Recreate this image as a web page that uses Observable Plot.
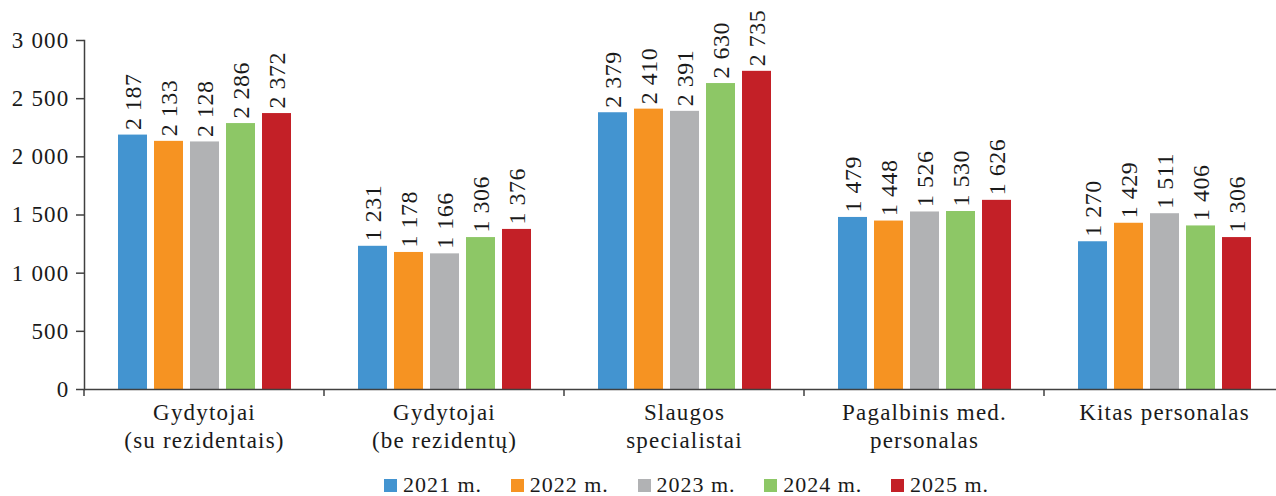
<!DOCTYPE html>
<html>
<head>
<meta charset="utf-8">
<script src="https://cdn.jsdelivr.net/npm/d3@7"></script>
<script src="https://cdn.jsdelivr.net/npm/@observablehq/plot@0.6"></script>
<style>
  body { margin: 0; background: #fff; font-family: "Liberation Serif", "Times New Roman", serif; color: #1a1a1a; }
  #wrap { position: relative; width: 1276px; height: 496px; overflow: hidden; }
  #chart svg text { letter-spacing: 1.2px; }
  #chart svg .vlab text { letter-spacing: 0.5px; }
  #legend { position: absolute; left: 384px; top: 474px; display: flex; align-items: center; font-size: 22px; line-height: 22px; letter-spacing: 1px; }
  .item { display: flex; align-items: center; width: 126.75px; }
  .sw { width: 13px; height: 13px; margin-right: 6px; flex: none; }
</style>
</head>
<body>
<div id="wrap"><div id="chart"></div><div id="legend"></div></div>
<script>
const categories = ["Gydytojai\n(su rezidentais)", "Gydytojai\n(be rezidentų)", "Slaugos\nspecialistai", "Pagalbinis med.\npersonalas", "Kitas personalas"];
const years = ["2021 m.", "2022 m.", "2023 m.", "2024 m.", "2025 m."];
const v2021 = [2187, 1231, 2379, 1479, 1270];
const v2022 = [2133, 1178, 2410, 1448, 1429];
const v2023 = [2128, 1166, 2391, 1526, 1511];
const v2024 = [2286, 1306, 2630, 1530, 1406];
const v2025 = [2372, 1376, 2735, 1626, 1306];
const colors = ["#4394d0", "#f69322", "#b1b2b4", "#8dc766", "#c32027"];
const yTicks = [0, 500, 1000, 1500, 2000, 2500, 3000];

const series = [v2021, v2022, v2023, v2024, v2025];
const rows = [];
categories.forEach((c, i) => years.forEach((y, j) => rows.push({cat: c, year: y, value: series[j][i]})));

const fmt = d3.formatLocale({decimal: ",", thousands: " ", grouping: [3], currency: ["", ""]}).format(",d");
const axisColor = "#404040";
const textColor = "#1a1a1a";

// small tick below the baseline at the left edge of every category band (drawn once per facet)
function bandTicks(index, scales, values, dimensions) {
  const y0 = scales.y(0);
  const x = dimensions.marginLeft;
  return d3.create("svg:line")
    .attr("stroke", axisColor).attr("stroke-width", 1.5)
    .attr("x1", x).attr("x2", x).attr("y1", y0).attr("y2", y0 + 7)
    .node();
}

const chart = Plot.plot({
  width: 1276,
  height: 496,
  marginLeft: 84,
  marginRight: 0,
  marginTop: 40,
  marginBottom: 107,
  style: {fontFamily: '"Liberation Serif", "Times New Roman", serif', color: textColor, background: "#fff"},
  fx: {domain: categories, range: [84, 1284], padding: 0, axis: null},
  x: {domain: years, paddingInner: 0.2, paddingOuter: 0.87, axis: null},
  y: {domain: [0, 3000], axis: null},
  color: {domain: years, range: colors},
  marks: [
    Plot.barY(rows, {fx: "cat", x: "year", y: "value", fill: "year"}),
    Plot.ruleY([0], {stroke: axisColor, strokeWidth: 1.5}),
    Plot.frame({anchor: "left", facetAnchor: "left", stroke: axisColor, strokeWidth: 1.5}),
    Plot.text(rows, {fx: "cat", x: "year", y: "value", text: d => fmt(d.value), rotate: -90, textAnchor: "start", dy: -5, fontSize: 24, fill: textColor, className: "vlab"}),
    Plot.text(categories, {fx: d => d, text: d => d, frameAnchor: "bottom", lineAnchor: "top", dy: 11, fontSize: 23, lineHeight: 1.22, fill: textColor}),
    Plot.axisY({ticks: yTicks, tickFormat: fmt, label: null, tickSize: 8, tickPadding: 7, fontSize: 23, stroke: axisColor, strokeWidth: 1.5, fill: textColor}),
    bandTicks
  ]
});
document.getElementById("chart").appendChild(chart);

const legend = document.getElementById("legend");
years.forEach((y, j) => {
  const it = document.createElement("div");
  it.className = "item";
  const sw = document.createElement("span");
  sw.className = "sw";
  sw.style.background = colors[j];
  const t = document.createElement("span");
  t.textContent = y;
  it.appendChild(sw); it.appendChild(t);
  legend.appendChild(it);
});
</script>
</body>
</html>
